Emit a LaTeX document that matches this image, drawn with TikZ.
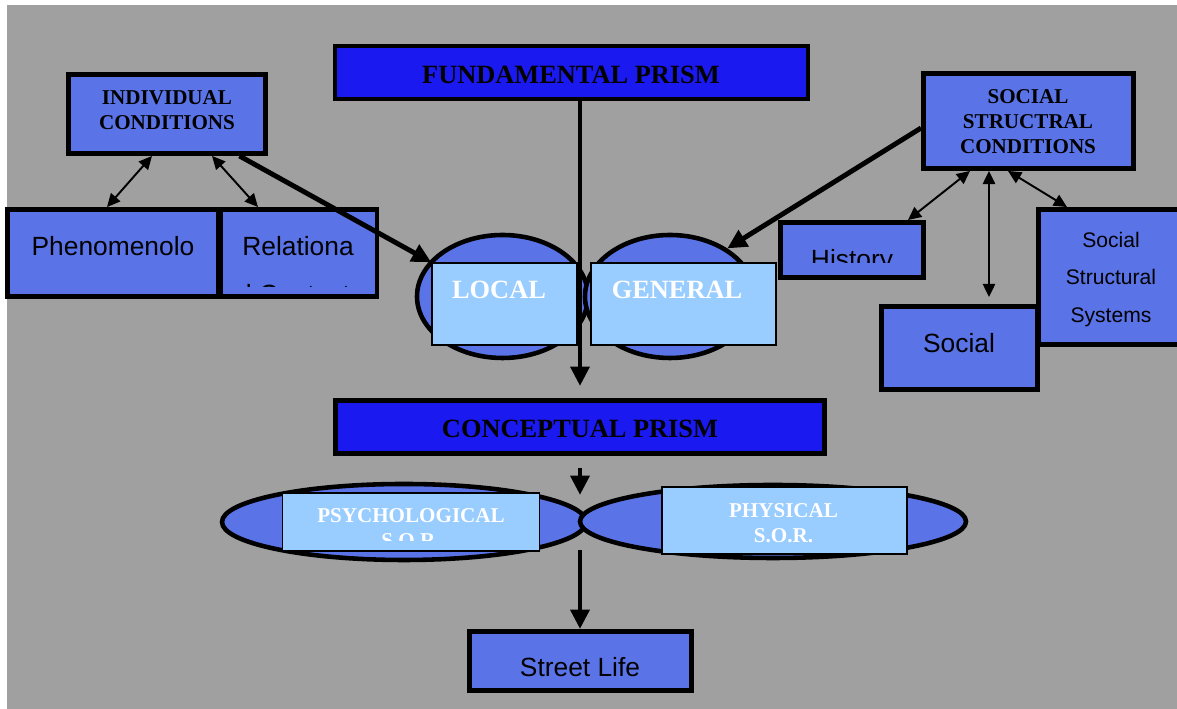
\documentclass[tikz,border=0pt]{standalone}
\usepackage{fontspec}
\setmainfont{Liberation Serif}
\setsansfont{Liberation Sans}
\usepackage{tikz}
\usetikzlibrary{calc,positioning,shapes.geometric,arrows.meta}
\definecolor{bggrey}{HTML}{A0A0A0}
\definecolor{midblue}{HTML}{5A74E8}
\definecolor{deepblue}{HTML}{1A1AF0}
\definecolor{paleblue}{HTML}{99CCFF}
\tikzset{
	box/.style={draw, line width=2.8pt, fill=midblue, inner sep=0pt},
	prism/.style={box, fill=deepblue},
	oval/.style={draw, ellipse, line width=2.6pt, fill=midblue, inner sep=0pt},
	pane/.style={draw, line width=0.8pt, fill=paleblue, inner sep=0pt},
	head/.style={inner sep=0pt, align=center, font=\bfseries\fontsize{12}{14.2}\selectfont},
	bighead/.style={inner sep=0pt, font=\bfseries\fontsize{15}{18}\selectfont},
	plain/.style={inner sep=0pt, anchor=base, font=\sffamily\fontsize{15}{18}\selectfont},
	bigarrow/.style={line width=2.8pt, -{Triangle[length=11pt,width=10.5pt]}},
	duo/.style={line width=1.1pt, {Triangle[length=7.5pt,width=7pt]}-{Triangle[length=7.5pt,width=7pt]}},
}
\begin{document}
\begin{tikzpicture}
		\useasboundingbox (0,0) rectangle (23.54,14.18);
		\clip (0,0) rectangle (23.54,14.18);
		\fill[bggrey] (0.14,0) rectangle (23.54,14.08);
		\node[prism, minimum width=9.46cm, minimum height=1.06cm] at (11.43,12.73) (fp) {};
		\node[box, minimum width=3.94cm, minimum height=1.58cm] at (3.34,11.90) (ic) {};
		\node[box, minimum width=4.22cm, minimum height=1.74cm] at (2.26,9.12) (ph) {};
		\node[box, minimum width=3.12cm, minimum height=1.74cm] at (5.98,9.12) (rel) {};
		\node[box, minimum width=4.20cm, minimum height=1.90cm] at (20.57,11.76) (ssc) {};
		\node[box, minimum width=2.86cm, minimum height=1.10cm] at (17.04,9.18) (hist) {};
		\node[box, minimum width=2.93cm, minimum height=2.70cm] at (22.235,8.64) (sss) {};
		\node[box, minimum width=3.12cm, minimum height=1.66cm] at (19.19,7.22) (soc) {};
		\node[prism, minimum width=9.78cm, minimum height=1.06cm] at (11.60,5.64) (cp) {};
		\node[box, minimum width=4.44cm, minimum height=1.18cm] at (11.61,0.96) (sl) {};
		\node[oval, minimum width=3.42cm, minimum height=2.46cm] at (10.05,8.25) (locov) {};
		\node[oval, minimum width=3.40cm, minimum height=2.46cm] at (13.40,8.25) (genov) {};
		\node[oval, minimum width=7.28cm, minimum height=1.52cm] at (8.08,3.74) (psyov) {};
		\node[oval, minimum width=7.72cm, minimum height=1.46cm] at (15.46,3.75) (phyov) {};
		\node[pane, minimum width=2.90cm, minimum height=1.64cm] at (10.09,8.10) (loc) {};
		\node[pane, minimum width=3.70cm, minimum height=1.64cm] at (13.67,8.10) (gen) {};
		\node[pane, minimum width=5.15cm, minimum height=1.16cm] at (8.22,3.74) (psy) {};
		\node[pane, minimum width=4.90cm, minimum height=1.34cm] at (15.69,3.77) (phy) {};
		\node[bighead] at (11.42,12.68) (fpt) {FUNDAMENTAL PRISM};
		\node[head] at (3.34,11.97) (ict) {INDIVIDUAL\\CONDITIONS};
		\node[head] at (20.56,11.74) (ssct) {SOCIAL\\STRUCTRAL\\CONDITIONS};
		\node[bighead] at (11.60,5.60) (cpt) {CONCEPTUAL PRISM};
		\node[bighead, text=white] at (9.98,8.38) (loct) {LOCAL};
		\node[bighead, text=white] at (13.54,8.38) (gent) {GENERAL};
		\node[head, text=white] at (15.67,3.72) (phyt) {PHYSICAL\\S.O.R.};
		\begin{scope}
			\clip (5.70,3.36) rectangle (10.76,4.26);
			\node[head, text=white] at (8.22,3.62) (psyt) {PSYCHOLOGICAL\\S.O.R.};
		\end{scope}
		\node[plain] at (2.26,9.06) (pht) {Phenomenolo};
		\node[plain] at (5.96,9.06) (relt) {Relationa};
		\begin{scope}
			\clip (4.46,8.44) rectangle (7.50,9.90);
			\node[plain] at (5.96,8.11) (relu) {l Context};
		\end{scope}
		\begin{scope}
			\clip (15.66,8.92) rectangle (18.42,9.68);
			\node[plain] at (17.04,8.80) (histt) {History};
		\end{scope}
		\node[plain] at (19.18,7.12) (soct) {Social};
		\node[inner sep=0pt, align=center, font=\sffamily\fontsize{12}{21.3}\selectfont] at (22.22,8.59) (ssst) {Social\\Structural\\Systems};
		\node[plain] at (11.60,0.64) (slt) {Street Life};
		\coordinate (fptip) at (11.60,6.46);
		\coordinate (cptip) at (11.60,4.28);
		\coordinate (slfoot) at (11.60,3.18);
		\draw[bigarrow] (fp.south -| fptip) -- (fptip);
		\draw[bigarrow] ([yshift=-0.24cm]cp.south) -- (cptip);
		\draw[bigarrow] (slfoot) -- (sl.north -| slfoot);
		\draw[bigarrow] ([xshift=-0.57cm]ic.south east) -- (loc.north west);
		\draw[bigarrow] ([yshift=-0.14cm]ssc.west) -- (genov.40);
		\draw[duo] ([xshift=-0.30cm]ic.south) -- ([xshift=-0.12cm]ph.north);
		\draw[duo] ([xshift=0.90cm]ic.south) -- ([xshift=-0.82cm]rel.north);
		\draw[duo] ([xshift=-1.17cm]ssc.south) -- ([xshift=1.12cm]hist.north);
		\draw[duo] ([xshift=-0.79cm]ssc.south) -- ([xshift=0.59cm,yshift=0.14cm]soc.north);
		\draw[duo] ([xshift=-0.41cm]ssc.south) -- ([xshift=-0.895cm]sss.north);
\end{tikzpicture}
\end{document}
